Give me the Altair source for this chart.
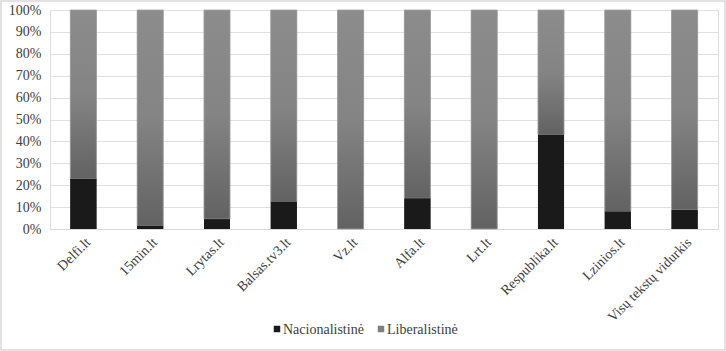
import altair as alt
import pandas as pd

categories = ["Delfi.lt", "15min.lt", "Lrytas.lt", "Balsas.tv3.lt", "Vz.lt", "Alfa.lt",
              "Lrt.lt", "Respublika.lt", "Lzinios.lt", "Visų tekstų vidurkis"]
nacionalistine = [23, 1.5, 4.5, 12.5, 0, 14, 0, 43, 8, 8.7]
liberalistine = [100 - v for v in nacionalistine]
series = ["Nacionalistinė", "Liberalistinė"]
series_colors = ["#1a1a1a", "#7f7f7f"]

rows = []
for c, n, l in zip(categories, nacionalistine, liberalistine):
    rows.append({"cat": c, "series": series[0], "value": n, "order": 0})
    rows.append({"cat": c, "series": series[1], "value": l, "order": 1})
df = pd.DataFrame(rows)
wide = pd.DataFrame({"cat": categories, "nac": nacionalistine, "top": [100] * len(categories)})
legend_df = pd.DataFrame({"series": series, "color": series_colors})

FONT = "Liberation Serif"
yaxis = alt.Axis(values=list(range(0, 101, 10)), labelExpr="datum.value + '%'",
                 domain=False, ticks=False, gridColor="#e0e0e0", labelPadding=9)
yscale = alt.Scale(domain=[0, 100], nice=False)
xenc = alt.X("cat:N", sort=categories, title=None,
             scale=alt.Scale(paddingInner=0.61, paddingOuter=0.305),
             axis=alt.Axis(labelAngle=-45, ticks=False, domainColor="#d9d9d9", labelPadding=6))

base = alt.Chart(df).mark_bar().encode(
    x=xenc,
    y=alt.Y("value:Q", stack="zero", title=None, scale=yscale, axis=yaxis),
    color=alt.Color("series:N", sort=series, scale=alt.Scale(domain=series, range=series_colors), legend=None),
    order=alt.Order("order:Q"),
)

grad = alt.Gradient(gradient="linear", x1=0, x2=0, y1=0, y2=1,
                    stops=[alt.GradientStop(color="#8c8c8c", offset=0),
                           alt.GradientStop(color="#848484", offset=0.5),
                           alt.GradientStop(color="#626262", offset=1)])
lib = alt.Chart(wide).mark_bar(color=grad, stroke="#a0a0a0", strokeWidth=0.8).encode(
    x=alt.X("cat:N", sort=categories, title=None),
    y=alt.Y("nac:Q", title=None, scale=yscale, axis=yaxis),
    y2="top:Q",
)
nac = alt.Chart(wide).mark_bar(fill="#1a1a1a").encode(
    x=alt.X("cat:N", sort=categories, title=None),
    y=alt.Y("nac:Q", title=None, scale=yscale, axis=yaxis),
)
frame = alt.Chart(wide).mark_rect(fill=None, stroke="#d9d9d9", strokeWidth=1.5).encode(
    x=alt.value(-49), x2=alt.value(675), y=alt.value(-9), y2=alt.value(340)
).transform_filter("datum.cat == 'Vz.lt'")

legend_layers = []
for i, (sx, tx) in enumerate([(227, 233), (331, 337)]):
    item = alt.Chart(legend_df).transform_filter(alt.datum.series == series[i])
    legend_layers.append(item.mark_square(size=42, opacity=1).encode(
        x=alt.value(sx), y=alt.value(319), color=alt.Color("color:N", scale=None)))
    legend_layers.append(item.mark_text(align="left", baseline="middle", font=FONT, fontSize=14,
                                        color="#404040").encode(
        x=alt.value(tx), y=alt.value(320), text="series:N"))

chart = alt.layer(base, lib, nac, frame, *legend_layers).properties(
    width=668, height=219,
    autosize=alt.AutoSizeParams(type="none"),
    padding={"left": 50, "top": 10, "right": 8, "bottom": 122},
).configure_view(stroke=None).configure(background="white", font=FONT).configure_axis(
    labelFont=FONT, labelFontSize=14, labelColor="#404040"
)

chart.save("out.html", embed_options={"renderer": "svg", "actions": False})
